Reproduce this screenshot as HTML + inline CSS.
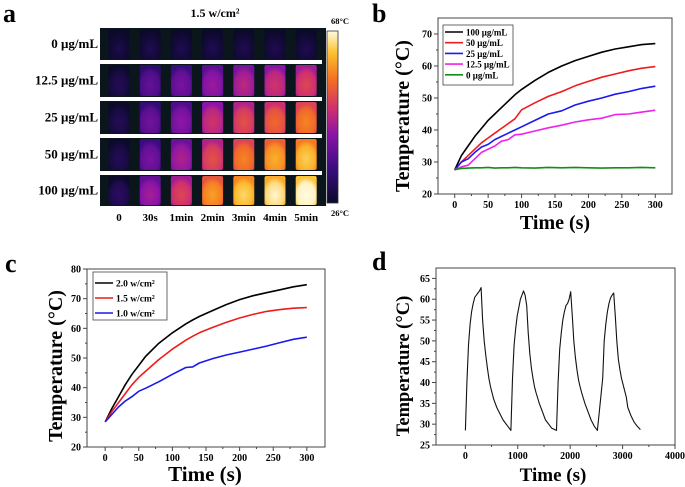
<!DOCTYPE html>
<html><head><meta charset="utf-8"><style>
html,body{margin:0;padding:0;background:#fff;}
svg{display:block;font-family:"Liberation Serif",serif;font-weight:bold;}
</style></head><body>
<svg id="fig" width="685" height="487" viewBox="0 0 685 487" xmlns="http://www.w3.org/2000/svg">
<defs>
<linearGradient id="cbar" x1="0" y1="1" x2="0" y2="0">
<stop offset="0" stop-color="#0b0a2a"/><stop offset="0.2" stop-color="#3a0c80"/><stop offset="0.4" stop-color="#8a14a8"/><stop offset="0.55" stop-color="#d0306e"/><stop offset="0.72" stop-color="#f47020"/><stop offset="0.87" stop-color="#fcc02c"/><stop offset="1" stop-color="#fffbe0"/>
</linearGradient>
</defs>
<g id="pa">
<text x="3" y="22" font-size="26">a</text>
<text x="215" y="17" font-size="12" text-anchor="middle">1.5 w/cm²</text>
<rect x="100" y="28" width="226" height="178" fill="#0a161c"/>
<rect x="327" y="31" width="11" height="172" fill="url(#cbar)" stroke="#333" stroke-width="0.8"/>
<text x="331" y="24" font-size="8.5">68°C</text>
<text x="331" y="216" font-size="8.5">26°C</text>
</g>
<g id="pb"></g>
<g id="pc"></g>
<g id="pd"></g>
</svg>
<script>
// ---- panel a data ----
const rowLabels = ["0 μg/mL","12.5 μg/mL","25 μg/mL","50 μg/mL","100 μg/mL"];
const colLabels = ["0","30s","1min","2min","3min","4min","5min"];
const heat0 = [0.02,0.03,0.03,0.03,0.03,0.03,0.03];
const heat12 = [0.05,0.25,0.3,0.38,0.45,0.5,0.55];
const heat25 = [0.05,0.28,0.35,0.5,0.58,0.64,0.7];
const heat50 = [0.05,0.3,0.42,0.58,0.7,0.78,0.84];
const heat100 = [0.08,0.4,0.55,0.75,0.86,0.93,0.98];
// ---- panel b data ----
const bTime = [0,10,20,30,40,50,60,70,80,90,100,120,140,160,180,200,220,240,260,280,300];
const b100 = [27.5,32,35,38,40.5,43,45,47,49,51,52.7,55.5,58,60,61.7,63,64.3,65.3,66,66.7,67];
const b50 = [27.5,30,32,34,36,37.5,39,40.5,42,43.5,46.3,48.5,50.5,52,53.8,55.2,56.5,57.5,58.5,59.3,59.8];
const b25 = [27.5,30,31,33,34.7,35.5,37,38,39,40,41,43,45,46,47.8,49,50,51.2,52,53,53.7];
const b12 = [27.5,28.5,29,31,33,34,35,36.5,37,38.5,38.7,39.7,40.7,41.5,42.5,43.2,43.7,44.8,45,45.6,46.2];
const b0 = [27.6,28,28.1,28.2,28.2,28.3,28.1,28.2,28.2,28.3,28.2,28.1,28.3,28.2,28.3,28.2,28.1,28.2,28.2,28.3,28.2];
// ---- panel c data ----
const cTime = [0,10,20,30,40,50,60,80,100,120,130,140,160,180,200,220,240,260,280,300];
const c20 = [28.5,33,37,41,44.5,47.5,50.5,55,58.5,61.5,62.8,64,66,68,69.7,71,72,73,74,74.7];
const c15 = [28.5,32,35,38,41,43.5,45.5,49.5,53,56,57.3,58.5,60.3,62,63.5,64.7,65.7,66.3,66.8,67];
const c10 = [28.5,31,33.5,35.5,37,38.8,39.8,42,44.5,46.8,47,48.3,49.8,51,52,53,54,55.2,56.3,57];
// ---- panel d data ----
const dTime = [0,30,60,90,120,150,180,210,240,270,300,330,360,390,420,450,480,540,600,660,720,780,870,
 900,930,960,990,1020,1050,1080,1110,1140,1170,1200,1230,1260,1290,1320,1350,1410,1470,1530,1590,1650,1740,
 1770,1800,1830,1860,1890,1920,1950,1980,2010,2040,2070,2100,2130,2160,2190,2220,2280,2340,2400,2460,2520,2620,
 2650,2680,2710,2740,2770,2800,2830,2860,2890,2920,2950,2980,3010,3040,3070,3100,3160,3220,3280,3340,3400,3480];
const dTemp = [28.5,40,49,54,57,59,60.5,61,61.5,62,62.8,55,50,46.5,43.5,41,39,36,34,32.5,31,30,28.5,
 41,49,53,56,58,60,61,62,61,58.5,52,47,43.5,41,39,37.5,35,33,31,30,29,28.5,
 40,48,52,55,57,58.5,59,60,61.8,56,50,46,43,40.5,39,37.5,35,33,31,29.5,28.5,
 41,50,54,57,59,60.3,61,61.5,56,50,45.5,43,41,39.5,38,36.5,34,32,30.5,29.5,28.7];

const svg = document.getElementById('fig');
const NS = 'http://www.w3.org/2000/svg';
function mk(parent, tag, attrs, text){
  const e = document.createElementNS(NS, tag);
  for (const k in attrs) e.setAttribute(k, attrs[k]);
  if (text !== undefined) e.textContent = text;
  parent.appendChild(e);
  return e;
}
function cmap(t){
  const st=[[0,[11,10,42]],[0.2,[58,12,128]],[0.4,[138,20,168]],[0.55,[208,48,110]],[0.72,[244,112,32]],[0.87,[252,192,44]],[1,[255,251,224]]];
  for(let i=1;i<st.length;i++){ if(t<=st[i][0]){ const a=st[i-1],b=st[i]; const f=(t-a[0])/(b[0]-a[0]);
    return 'rgb('+a[1].map((v,j)=>Math.round(v+(b[1][j]-v)*f)).join(',')+')'; } }
  return 'rgb(255,251,224)';
}
// ---- panel a ----
const pa = document.getElementById('pa');
const rows = [heat0,heat12,heat25,heat50,heat100];
const rowTop = [28,64,101,138,175], rowH = [32,33,33,33,31];
const defs = svg.querySelector('defs');
rows.forEach((vals,r)=>{
  const lab = mk(pa,'text',{x:98,y:rowTop[r]+rowH[r]/2+4,'font-size':13,'text-anchor':'end'},rowLabels[r]);
  
  
  vals.forEach((v,c)=>{
    const id='g'+r+'_'+c;
    const g = mk(defs,'radialGradient',{id:id,cx:'0.5',cy:'0.65',r:'0.6'});
    mk(g,'stop',{offset:'0','stop-color':cmap(Math.min(1,v+0.06))});
    mk(g,'stop',{offset:'0.7','stop-color':cmap(v)});
    mk(g,'stop',{offset:'1','stop-color':cmap(Math.max(0,v-0.1))});
    const cx = 119 + c*31.2;
    const t = mk(pa,'rect',{x:cx-10.5,y:rowTop[r]+1,width:21,height:rowH[r]-2,rx:2,fill:'url(#'+id+')'});
    
    
  });
  if (r<4){
    const bar = mk(pa,'rect',{x:100,y:rowTop[r]+rowH[r],width:222,height:4,fill:'#fff'});
    
    
  }
});
colLabels.forEach((l,c)=>{
  const t = mk(pa,'text',{x:119+c*31.2,y:221,'font-size':11,'text-anchor':'middle'},l);
  
  
});

// ---- generic chart ----
function chart(g, P){
  const sx = v => P.x0 + (v-P.xmin)/(P.xmax-P.xmin)*(P.x1-P.x0);
  const sy = v => P.y1 - (v-P.ymin)/(P.ymax-P.ymin)*(P.y1-P.y0);
  const fr = mk(g,'rect',{x:P.x0,y:P.y0,width:P.x1-P.x0,height:P.y1-P.y0,fill:'none',stroke:'#444','stroke-width':1});
  
  
  for(let v=P.xt[0]; v<=P.xt[1]+1e-9; v+=P.xt[2]/2){
    const major = Math.abs(((v-P.xt[0])/P.xt[2]) - Math.round((v-P.xt[0])/P.xt[2]))<1e-6;
    mk(g,'line',{x1:sx(v),x2:sx(v),y1:P.y1,y2:P.y1+(major?4:2),stroke:'#444','stroke-width':1});
    if(major){
      const t = mk(g,'text',{x:sx(v),y:P.y1+14,'font-size':10,'text-anchor':'middle'},String(Math.round(v)));
      
      
    }
  }
  for(let v=P.yt[0]; v<=P.yt[1]+1e-9; v+=P.yt[2]/2){
    const major = Math.abs(((v-P.yt[0])/P.yt[2]) - Math.round((v-P.yt[0])/P.yt[2]))<1e-6;
    mk(g,'line',{x1:P.x0,x2:P.x0-(major?4:2),y1:sy(v),y2:sy(v),stroke:'#444','stroke-width':1});
    if(major){
      const t = mk(g,'text',{x:P.x0-6,y:sy(v)+3.5,'font-size':10,'text-anchor':'end'},String(Math.round(v)));
      
      
    }
  }
  P.series.forEach(s=>{
    const d = s.x.map((xv,i)=>(i?'L':'M')+sx(xv).toFixed(1)+','+sy(s.y[i]).toFixed(1)).join('');
    const p = mk(g,'path',{d:d,fill:'none',stroke:s.color,'stroke-width':s.w||1.6,'stroke-linejoin':'round'});
    
    
  });
  const yc = P.ytc || (P.y0+P.y1)/2;
  const yt = mk(g,'text',{x:P.ytx,y:yc,'font-size':P.ytf,'text-anchor':'middle',transform:'rotate(-90 '+P.ytx+' '+yc+')'},'Temperature (°C)');
  
  
  const xt = mk(g,'text',{x:P.xtx,y:P.xty,'font-size':P.xtf,'text-anchor':'middle'},'Time (s)');
  
  
  const lt = mk(g,'text',{x:P.lx,y:P.ly,'font-size':26},P.letter);
  
  
  if(P.legend){
    const L=P.legend;
    const box = mk(g,'rect',{x:L.x,y:L.y,width:L.w,height:L.h,fill:'#fff',stroke:'#444','stroke-width':0.8});
    
    
    P.series.forEach((s,i)=>{
      const yy = L.y+L.first+i*L.step;
      mk(g,'line',{x1:L.x+2,x2:L.x+20,y1:yy,y2:yy,stroke:s.color,'stroke-width':1.6});
      const t = mk(g,'text',{x:L.x+23,y:yy+3.5,'font-size':L.fs},s.label);
      
      
    });
  }
}
chart(document.getElementById('pb'),{x0:438,x1:672,y0:18,y1:194,xmin:-25,xmax:325,ymin:20,ymax:75,
  xt:[0,300,50], yt:[20,70,10], ytx:409, ytf:20, ytc:116, xtx:555, xty:229, xtf:20, letter:'b', lx:372, ly:22,
  legend:{x:443,y:25,w:70,h:60,first:7,step:10.7,fs:9},
  series:[{x:bTime,y:b100,color:'#000',name:'line-100ugml',label:'100 μg/mL'},
          {x:bTime,y:b50,color:'#ee1c1c',name:'line-50ugml',label:'50 μg/mL'},
          {x:bTime,y:b25,color:'#1a1aee',name:'line-25ugml',label:'25 μg/mL'},
          {x:bTime,y:b12,color:'#ee22ee',name:'line-12-5ugml',label:'12.5 μg/mL'},
          {x:bTime,y:b0,color:'#109010',name:'line-0ugml',label:'0 μg/mL'}]});
chart(document.getElementById('pc'),{x0:87,x1:325,y0:269,y1:447,xmin:-27,xmax:327,ymin:20,ymax:80,
  xt:[0,300,50], yt:[20,80,10], ytx:62, ytf:20, ytc:366, xtx:205, xty:481, xtf:21, letter:'c', lx:5, ly:272,
  legend:{x:93,y:272,w:74,h:48,first:11,step:15,fs:9.5},
  series:[{x:cTime,y:c20,color:'#000',name:'line-2-0w',label:'2.0 w/cm²'},
          {x:cTime,y:c15,color:'#ee1c1c',name:'line-1-5w',label:'1.5 w/cm²'},
          {x:cTime,y:c10,color:'#1a1aee',name:'line-1-0w',label:'1.0 w/cm²'}]});
chart(document.getElementById('pd'),{x0:436,x1:675,y0:268,y1:445,xmin:-560,xmax:4000,ymin:25,ymax:67.5,
  xt:[0,4000,1000], yt:[25,65,5], ytx:409, ytf:18.5, ytc:366, xtx:553, xty:481, xtf:19, letter:'d', lx:372, ly:270,
  series:[{x:dTime,y:dTemp,color:'#111',name:'cycling-line',w:1.1}]});
</script>
</body></html>
